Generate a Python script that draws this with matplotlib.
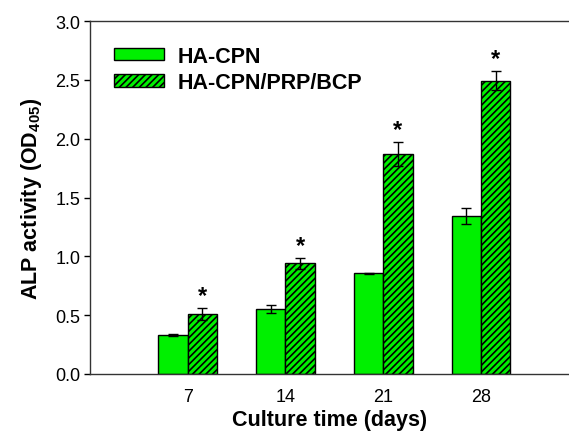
import matplotlib
matplotlib.use("Agg")
import matplotlib.pyplot as plt
import numpy as np

plt.rcParams['font.family'] = ['Liberation Sans', 'DejaVu Sans']
plt.rcParams['mathtext.fontset'] = 'custom'
plt.rcParams['mathtext.bf'] = 'Liberation Sans:bold'
plt.rcParams['mathtext.rm'] = 'Liberation Sans'
plt.rcParams['hatch.linewidth'] = 1.2

# data
days = ['7', '14', '21', '28']
hacpn = [0.33, 0.55, 0.855, 1.34]
hacpn_err = [0.006, 0.035, 0.006, 0.068]
prp_bcp = [0.51, 0.94, 1.87, 2.495]
prp_bcp_err = [0.05, 0.045, 0.10, 0.08]
significant = [True, True, True, True]

x = np.arange(1, len(days) + 1)
w = 0.3
green = '#00f000'

fig = plt.figure(figsize=(5.69, 4.35), dpi=100)
ax = fig.add_axes([0.158, 0.138, 0.842, 0.811])

ax.bar(x - w / 2, hacpn, w, color=green, edgecolor='black', linewidth=1.0,
       yerr=hacpn_err, capsize=3.6, error_kw=dict(elinewidth=1, capthick=1),
       label='HA-CPN')
ax.bar(x + w / 2, prp_bcp, w, color=green, edgecolor='black', linewidth=1.0,
       hatch='/////', yerr=prp_bcp_err, capsize=3.6,
       error_kw=dict(elinewidth=1, capthick=1), label='HA-CPN/PRP/BCP')

# significance marks
for xi, v, e, s in zip(x, prp_bcp, prp_bcp_err, significant):
    if s:
        ax.text(xi + w / 2, v + e + 0.01, '*', ha='center', va='bottom',
                fontsize=17, fontweight='bold')

ax.set_xlim(0, 4.9)
ax.set_ylim(0, 3.0)
ax.set_xticks(x)
ax.set_xticklabels(days)
ax.set_yticks(np.arange(0, 3.01, 0.5))
ax.tick_params(axis='x', length=0, labelsize=13, pad=10)
ax.tick_params(axis='y', length=4, width=1, labelsize=13, direction='out', pad=3)
ax.spines['right'].set_visible(False)
for sp in ['left', 'bottom', 'top']:
    ax.spines[sp].set_linewidth(1.0)
    ax.spines[sp].set_color('#333333')

ax.set_xlabel('Culture time (days)', fontsize=15.5, fontweight='bold', labelpad=3)
ax.set_ylabel(r'ALP activity (OD$_{\mathbf{405}}$)', fontsize=15.5,
              fontweight='bold', labelpad=8)

ax.legend(loc='upper left', bbox_to_anchor=(0.01, 0.985), frameon=False,
          prop={'weight': 'bold', 'size': 15.5},
          handlelength=2.3, handleheight=0.5, handletextpad=0.65,
          labelspacing=0.25)

fig.savefig('out.png', dpi=100)
